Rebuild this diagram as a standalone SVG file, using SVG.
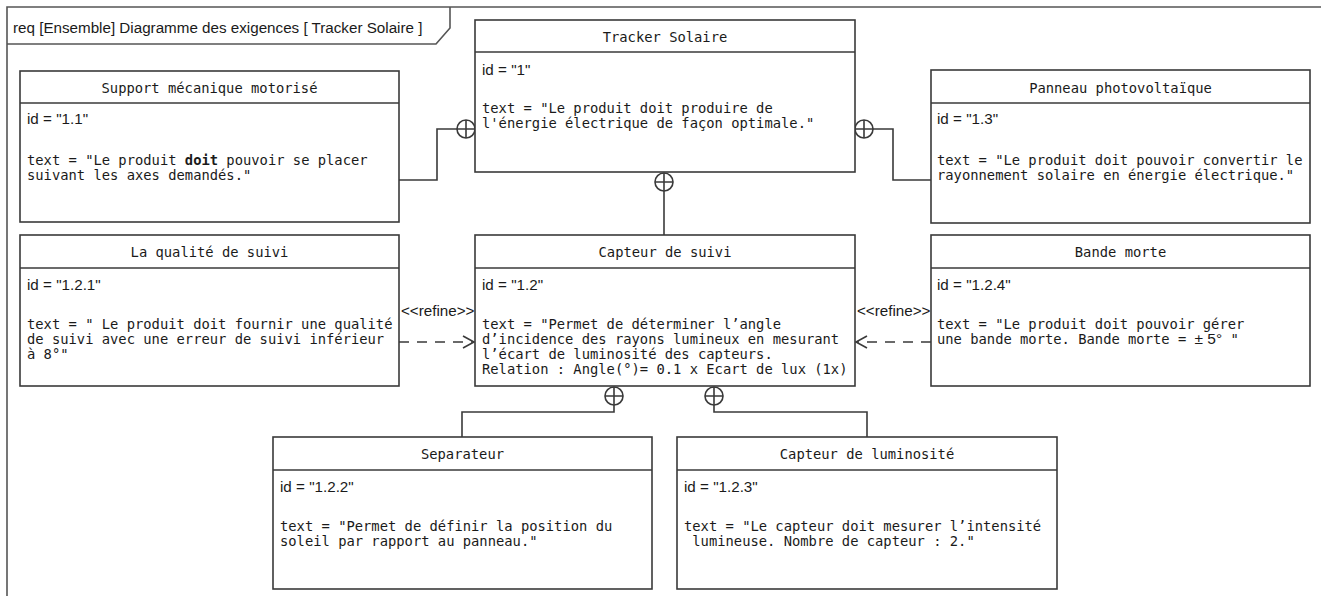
<svg xmlns="http://www.w3.org/2000/svg" width="1321" height="596" viewBox="0 0 1321 596">
<defs>
<style>
.box{fill:#fff;stroke:#3a3a3a;stroke-width:1.6}
.sep{stroke:#3a3a3a;stroke-width:1.6}
.ttl{font-family:"DejaVu Sans Mono","Liberation Mono",monospace;font-size:13.8px;fill:#1a1a1a;text-anchor:middle}
.mono{font-family:"DejaVu Sans Mono","Liberation Mono",monospace;font-size:13.8px;fill:#1a1a1a}
.sans{font-family:"Liberation Sans",Arial,sans-serif;font-size:15.2px;fill:#1a1a1a}
.ln{fill:none;stroke:#3a3a3a;stroke-width:1.6}
.dash{fill:none;stroke:#3a3a3a;stroke-width:1.6;stroke-dasharray:10 8}
.frame{fill:none;stroke:#555;stroke-width:1.6}
</style>
<marker id="open" markerWidth="14" markerHeight="14" refX="12" refY="7" orient="auto" markerUnits="userSpaceOnUse">
<path d="M1,1 L12,7 L1,13" fill="none" stroke="#3a3a3a" stroke-width="1.6"/>
</marker>
<symbol id="cp" viewBox="-10 -10 20 20" overflow="visible">
<circle cx="0" cy="0" r="9" fill="#fff" stroke="#3a3a3a" stroke-width="1.6"/>
<path d="M-9,0 H9 M0,-9 V9" stroke="#3a3a3a" stroke-width="1.6"/>
</symbol>
</defs>
<rect width="1321" height="596" fill="#fff"/>
<g id="frame">
<path class="frame" d="M7,596 V7 H1321"/>
<path class="frame" d="M7,44 H436 L450,28 V7"/>
<text class="sans" x="13" y="33">req [Ensemble] Diagramme des exigences [ Tracker Solaire ]</text>
</g>
<g id="connectors">
<path class="ln" d="M399,180 H437 V129 H457"/>
<path class="ln" d="M873,129 H893 V180 H931"/>
<path class="ln" d="M664,191 V235"/>
<path class="ln" d="M614,405 V412 H462 V437"/>
<path class="ln" d="M714,405 V412 H867 V437"/>
<use href="#cp" x="456" y="119" width="20" height="20"/>
<use href="#cp" x="854" y="119" width="20" height="20"/>
<use href="#cp" x="654" y="172" width="20" height="20"/>
<use href="#cp" x="604" y="386" width="20" height="20"/>
<use href="#cp" x="704" y="386" width="20" height="20"/>
<path class="dash" d="M399,342 H474" marker-end="url(#open)"/>
<path class="dash" d="M931,342 H856" marker-end="url(#open)"/>
<text class="sans" x="401" y="316" font-size="15">&lt;&lt;refine&gt;&gt;</text>
<text class="sans" x="857" y="316" font-size="15">&lt;&lt;refine&gt;&gt;</text>
</g>
<g id="n1">
<rect class="box" x="475" y="20" width="380" height="152"/>
<line class="sep" x1="475" y1="52" x2="855" y2="52"/>
<text class="ttl" x="665" y="42">Tracker Solaire</text>
<text class="sans" x="482" y="75">id = "1"</text>
<text class="mono" x="482" y="113">text = "Le produit doit produire de</text>
<text class="mono" x="482" y="128">l'énergie électrique de façon optimale."</text>
</g>
<g id="n1_1">
<rect class="box" x="20" y="71" width="379" height="151"/>
<line class="sep" x1="20" y1="103" x2="399" y2="103"/>
<text class="ttl" x="209.5" y="93">Support mécanique motorisé</text>
<text class="sans" x="27" y="124">id = "1.1"</text>
<text class="mono" x="27" y="165">text = "Le produit <tspan font-weight="bold">doit</tspan> pouvoir se placer</text>
<text class="mono" x="27" y="180">suivant les axes demandés."</text>
</g>
<g id="n1_3">
<rect class="box" x="931" y="70" width="379" height="153"/>
<line class="sep" x1="931" y1="103" x2="1310" y2="103"/>
<text class="ttl" x="1120.5" y="93">Panneau photovoltaïque</text>
<text class="sans" x="937" y="124">id = "1.3"</text>
<text class="mono" x="937" y="165">text = "Le produit doit pouvoir convertir le</text>
<text class="mono" x="937" y="180">rayonnement solaire en énergie électrique."</text>
</g>
<g id="n1_2_1">
<rect class="box" x="20" y="235" width="379" height="151"/>
<line class="sep" x1="20" y1="268" x2="399" y2="268"/>
<text class="ttl" x="209.5" y="257">La qualité de suivi</text>
<text class="sans" x="27" y="290">id = "1.2.1"</text>
<text class="mono" x="27" y="329">text = " Le produit doit fournir une qualité</text>
<text class="mono" x="27" y="344">de suivi avec une erreur de suivi inférieur</text>
<text class="mono" x="27" y="359">à 8°"</text>
</g>
<g id="n1_2">
<rect class="box" x="475" y="235" width="380" height="151"/>
<line class="sep" x1="475" y1="268" x2="855" y2="268"/>
<text class="ttl" x="665" y="257">Capteur de suivi</text>
<text class="sans" x="482" y="290">id = "1.2"</text>
<text class="mono" x="482" y="329">text = "Permet de déterminer l’angle</text>
<text class="mono" x="482" y="344">d’incidence des rayons lumineux en mesurant</text>
<text class="mono" x="482" y="359">l’écart de luminosité des capteurs.</text>
<text class="mono" x="482" y="374">Relation : Angle(°)= 0.1 x Ecart de lux (1x)</text>
</g>
<g id="n1_2_4">
<rect class="box" x="931" y="235" width="379" height="151"/>
<line class="sep" x1="931" y1="268" x2="1310" y2="268"/>
<text class="ttl" x="1120.5" y="257">Bande morte</text>
<text class="sans" x="937" y="290">id = "1.2.4"</text>
<text class="mono" x="937" y="329">text = "Le produit doit pouvoir gérer</text>
<text class="mono" x="937" y="344">une bande morte. Bande morte = <tspan font-family="Liberation Sans, sans-serif" font-size="15.5">± 5°</tspan> "</text>
</g>
<g id="n1_2_2">
<rect class="box" x="273" y="437" width="379" height="152"/>
<line class="sep" x1="273" y1="470" x2="652" y2="470"/>
<text class="ttl" x="462.5" y="459">Separateur</text>
<text class="sans" x="280" y="492">id = "1.2.2"</text>
<text class="mono" x="280" y="531">text = "Permet de définir la position du</text>
<text class="mono" x="280" y="546">soleil par rapport au panneau."</text>
</g>
<g id="n1_2_3">
<rect class="box" x="677" y="437" width="380" height="152"/>
<line class="sep" x1="677" y1="470" x2="1057" y2="470"/>
<text class="ttl" x="867" y="459">Capteur de luminosité</text>
<text class="sans" x="684" y="492">id = "1.2.3"</text>
<text class="mono" x="684" y="531">text = "Le capteur doit mesurer l’intensité</text>
<text class="mono" x="684" y="546">&#160;lumineuse. Nombre de capteur : 2."</text>
</g>
</svg>
